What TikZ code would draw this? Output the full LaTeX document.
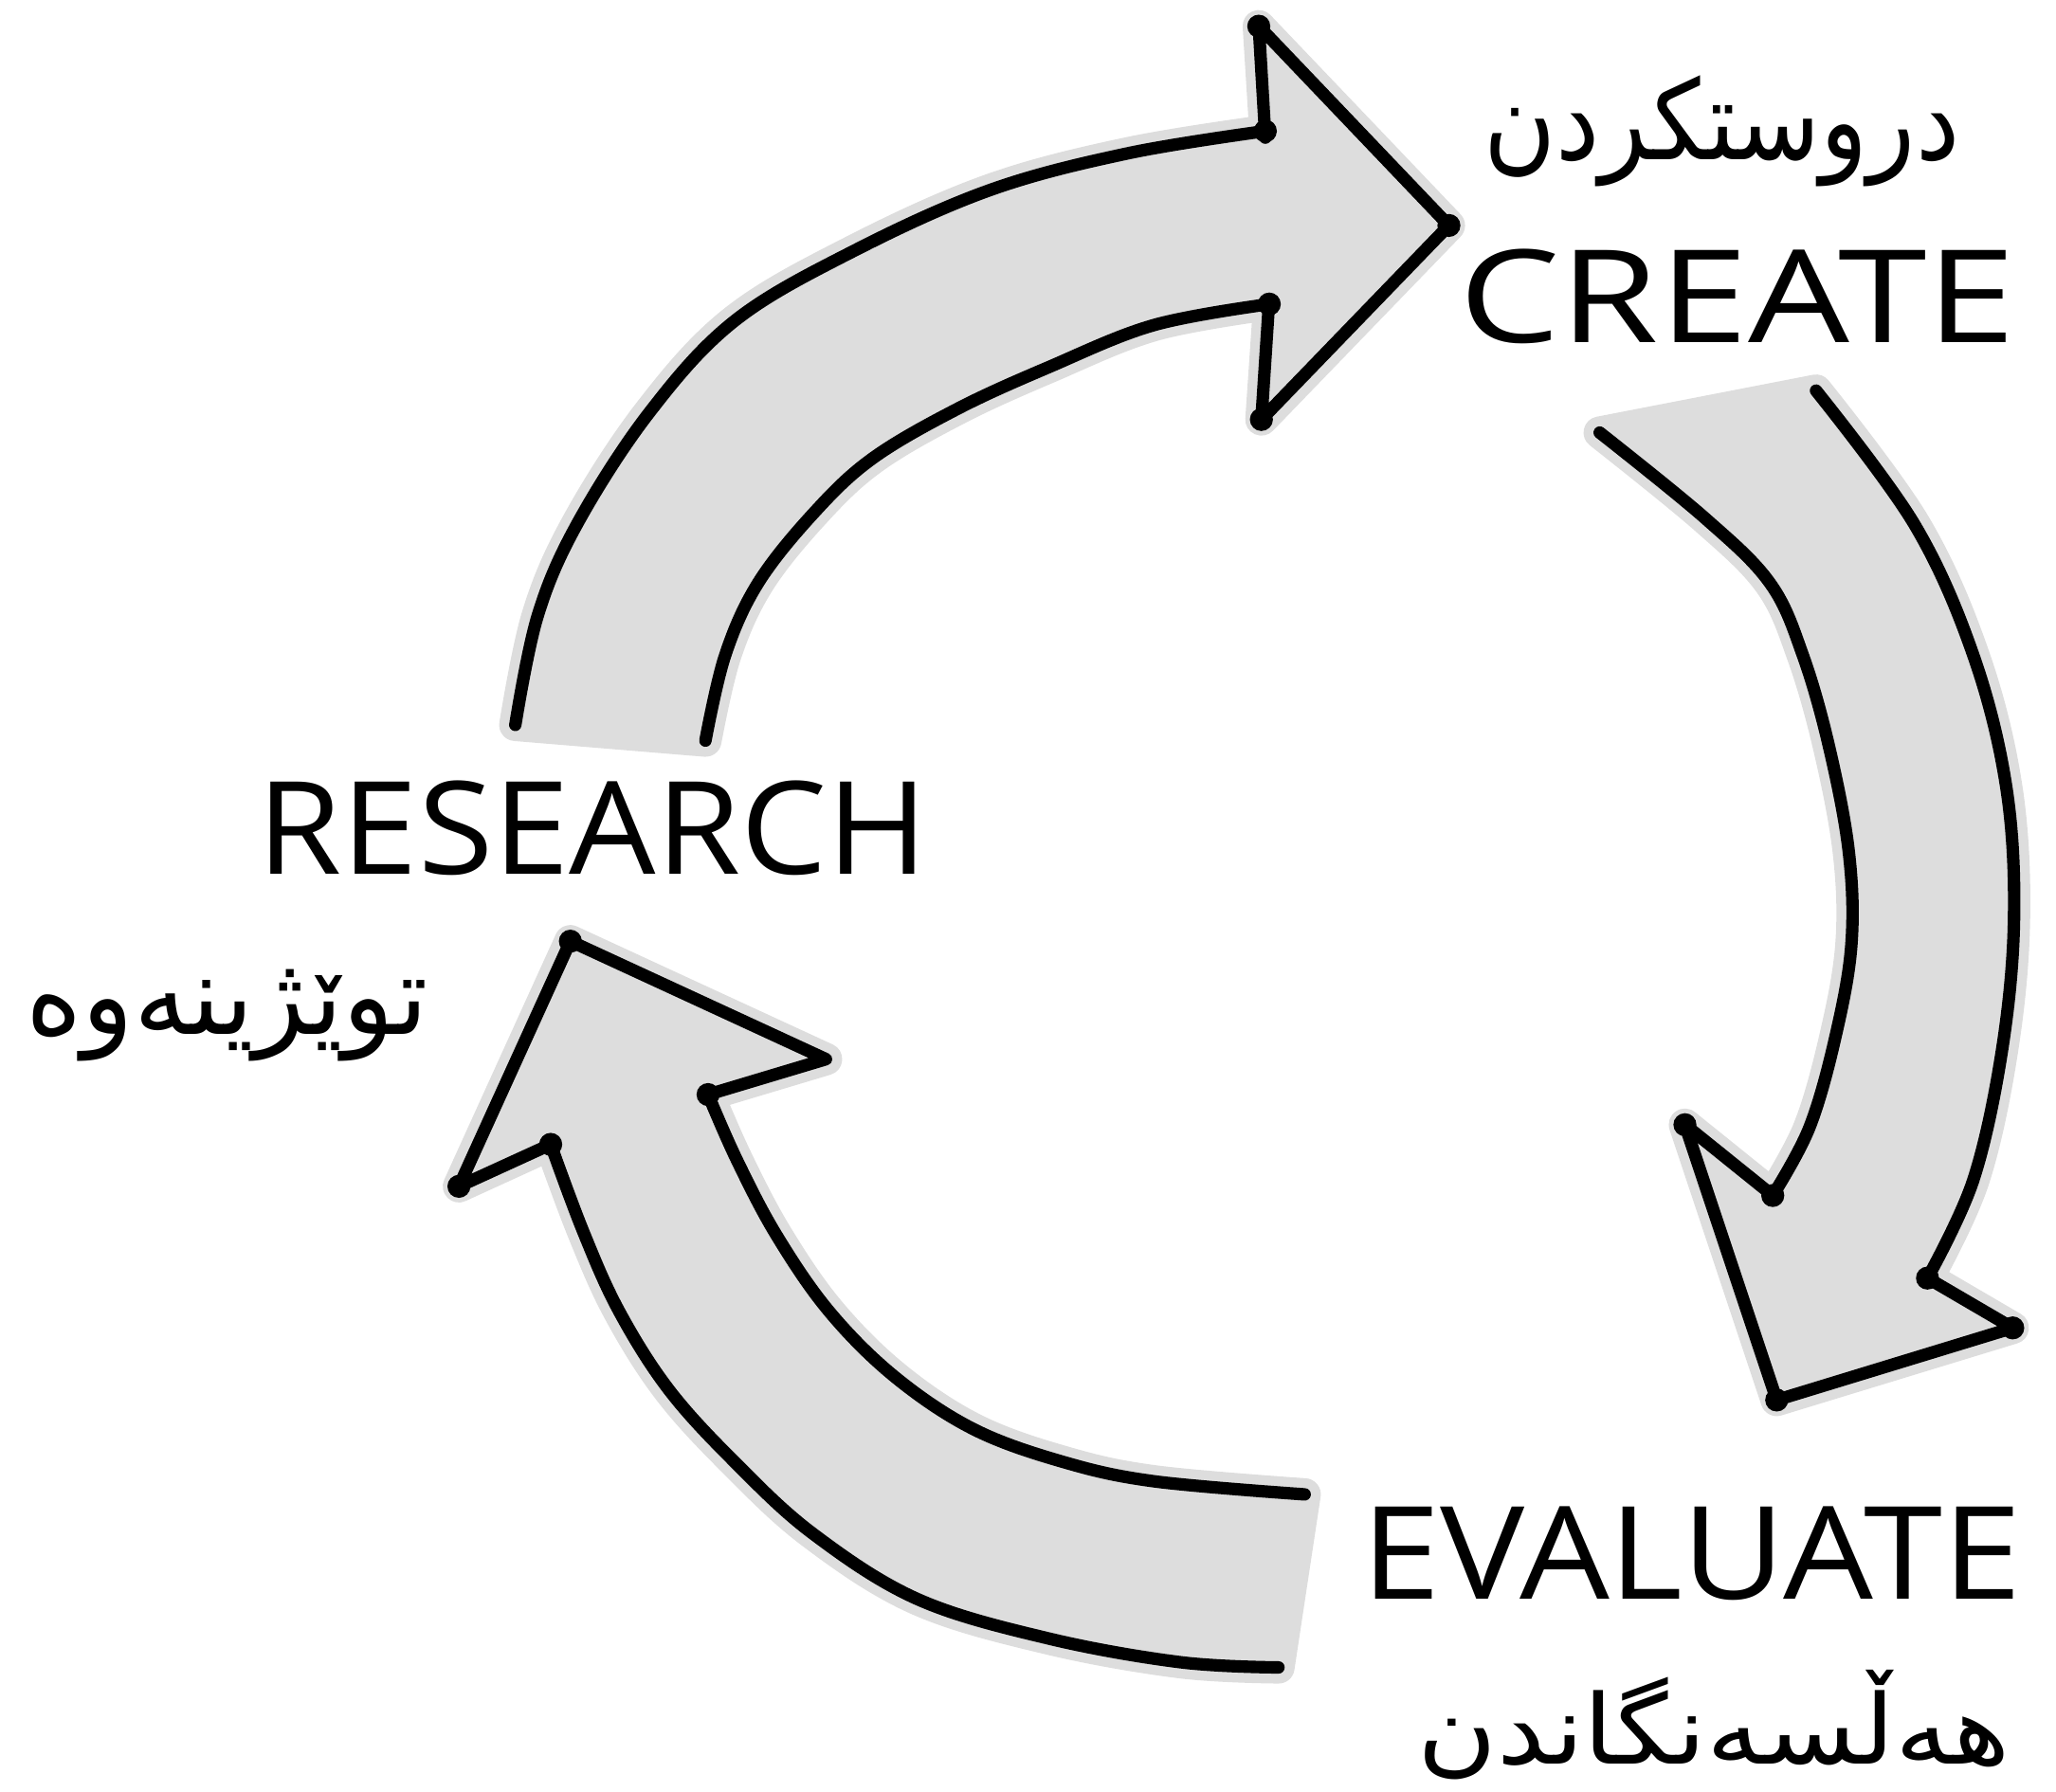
\documentclass[tikz,border=0pt]{standalone}
\usepackage{fontspec}
\TeXXeTstate=1
\newfontfamily\arabicfont[Script=Arabic]{DejaVu Sans}
\newfontfamily\handfont{Open Sans}
\definecolor{fillg}{RGB}{221,221,221}
\begin{document}
\begin{tikzpicture}[x=0.01cm,y=-0.01cm,
  sketch/.style={line width=2.7pt, line cap=round, line join=round, black},
  shade/.style={fill=fillg, draw=fillg, line width=7pt, line join=round},
  vdot/.style={circle, fill=black, inner sep=0pt, minimum size=5pt},
  latin/.style={font=\handfont\fontsize{28}{30}\selectfont, inner sep=0pt},
  kurd/.style={font=\arabicfont\fontsize{24}{28}\selectfont, inner sep=0pt},
  sm/.style={smooth, tension=0.6}]
\useasboundingbox (0,0) rectangle (1568,1367);

% ---------- top arrow (research -> create)
\path[shade] plot[sm] coordinates {(393,553) (410,470) (440,400) (495,315) (560,245) (650,192) (755,145) (860,117) (965,100)}
  -- (960,20) -- (1105,172) -- (962,320) -- (968,232)
  -- plot[sm] coordinates {(968,232) (880,248) (800,280) (730,312) (665,350) (620,392) (578,445) (553,500) (538,565)} -- cycle;
\draw[sketch] plot[sm] coordinates {(393,553) (410,470) (440,400) (495,315) (560,245) (650,192) (755,145) (860,117) (965,100)};
\draw[sketch] (965,105) -- (960,20) -- (1105,172) -- (962,320) -- (968,228);
\draw[sketch] plot[sm] coordinates {(968,232) (880,248) (800,280) (730,312) (665,350) (620,392) (578,445) (553,500) (538,565)};
\foreach \p in {(960,20),(965,100),(1105,172),(968,232),(962,320)} \node[vdot] at \p {};

% ---------- right arrow (create -> evaluate)
\path[shade] plot[sm] coordinates {(1385,298) (1460,400) (1505,500) (1530,600) (1536,700) (1527,800) (1505,900) (1470,975)}
  -- (1535,1013) -- (1355,1068) -- (1285,858) -- (1352,912)
  -- plot[sm] coordinates {(1352,912) (1380,860) (1400,790) (1412,720) (1410,650) (1395,570) (1375,500) (1350,445) (1300,395) (1220,330)} -- cycle;
\draw[sketch] plot[sm] coordinates {(1385,298) (1460,400) (1505,500) (1530,600) (1536,700) (1527,800) (1505,900) (1470,975)};
\draw[sketch] (1470,975) -- (1535,1013) -- (1355,1068) -- (1285,858) -- (1352,912);
\draw[sketch] plot[sm] coordinates {(1352,912) (1380,860) (1400,790) (1412,720) (1410,650) (1395,570) (1375,500) (1350,445) (1300,395) (1220,330)};
\foreach \p in {(1470,975),(1535,1013),(1355,1068),(1285,858),(1352,912)} \node[vdot] at \p {};

% ---------- bottom-left arrow (evaluate -> research)
\path[shade] plot[sm] coordinates {(975,1272) (900,1268) (800,1250) (700,1220) (620,1170) (560,1115) (510,1060) (472,1000) (445,940) (420,873)}
  -- (350,905) -- (435,718) -- (630,808) -- (540,835)
  -- plot[sm] coordinates {(540,835) (562,885) (592,942) (632,1000) (682,1050) (742,1090) (810,1115) (880,1130) (995,1140)} -- cycle;
\draw[sketch] plot[sm] coordinates {(975,1272) (900,1268) (800,1250) (700,1220) (620,1170) (560,1115) (510,1060) (472,1000) (445,940) (420,873)};
\draw[sketch] (420,873) -- (350,905) -- (435,718) -- (630,808) -- (540,835);
\draw[sketch] plot[sm] coordinates {(540,835) (562,885) (592,942) (632,1000) (682,1050) (742,1090) (810,1115) (880,1130) (995,1140)};
\foreach \p in {(420,873),(350,905),(435,718),(540,835)} \node[vdot] at \p {};

% ---------- labels
\node[latin, xscale=1.24] (create) at (1325,226) {CREATE};
\node[latin, xscale=1.06] (research) at (452,632) {RESEARCH};
\node[latin, xscale=1.10] (evaluate) at (1290,1185) {EVALUATE};
\node[kurd, xscale=0.89] (createku) at (1313,100) {\beginR دروستکردن\endR};
\node[kurd, xscale=0.97] (researchku) at (173,775) {\beginR توێژینەوە\endR};
\node[kurd, font=\arabicfont\fontsize{21}{25}\selectfont, xscale=1.12] (evaluateku) at (1307,1316) {\beginR هەڵسەنگاندن\endR};
\end{tikzpicture}
\end{document}
